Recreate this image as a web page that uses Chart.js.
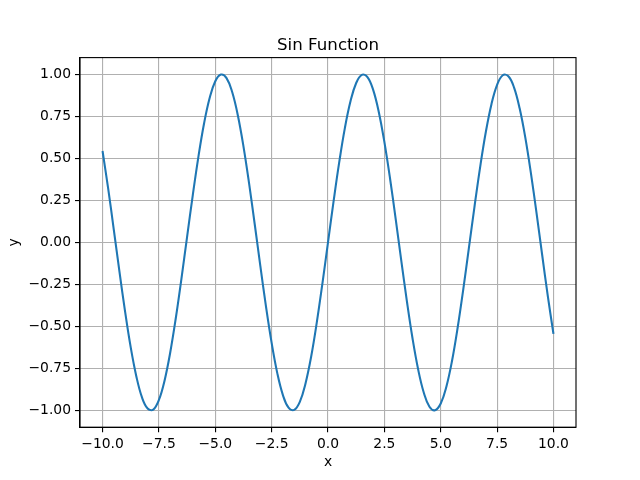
<!DOCTYPE html>
<html><head><meta charset="utf-8">
<script src="https://cdn.jsdelivr.net/npm/chart.js@4/dist/chart.umd.min.js"></script>
<style>html,body{margin:0;padding:0;background:#fff}#wrap{width:640px;height:480px}</style>
</head><body><div id="wrap"><canvas id="c" width="640" height="480"></canvas></div>
<script>
const xValues = [-10,-9.75,-9.5,-9.25,-9,-8.75,-8.5,-8.25,-8,-7.75,-7.5,-7.25,-7,-6.75,-6.5,-6.25,-6,-5.75,-5.5,-5.25,-5,-4.75,-4.5,-4.25,-4,-3.75,-3.5,-3.25,-3,-2.75,-2.5,-2.25,-2,-1.75,-1.5,-1.25,-1,-0.75,-0.5,-0.25,0,0.25,0.5,0.75,1,1.25,1.5,1.75,2,2.25,2.5,2.75,3,3.25,3.5,3.75,4,4.25,4.5,4.75,5,5.25,5.5,5.75,6,6.25,6.5,6.75,7,7.25,7.5,7.75,8,8.25,8.5,8.75,9,9.25,9.5,9.75,10];
const yValues = [0.544,0.320,0.075,-0.174,-0.412,-0.625,-0.798,-0.923,-0.989,-0.995,-0.938,-0.823,-0.657,-0.450,-0.215,0.033,0.279,0.508,0.706,0.859,0.959,0.999,0.978,0.895,0.757,0.572,0.351,0.108,-0.141,-0.382,-0.598,-0.778,-0.909,-0.984,-0.997,-0.949,-0.841,-0.682,-0.479,-0.247,0,0.247,0.479,0.682,0.841,0.949,0.997,0.984,0.909,0.778,0.598,0.382,0.141,-0.108,-0.351,-0.572,-0.757,-0.895,-0.978,-0.999,-0.959,-0.859,-0.706,-0.508,-0.279,-0.033,0.215,0.450,0.657,0.823,0.938,0.995,0.989,0.923,0.798,0.625,0.412,0.174,-0.075,-0.320,-0.544];
const xTicks = [-10,-7.5,-5,-2.5,0,2.5,5,7.5,10];
const yTicks = [-1,-0.75,-0.5,-0.25,0,0.25,0.5,0.75,1];
const titleText = 'Sin Function';
const xLabel = 'x';
const yLabel = 'y';

const FONT = "'DejaVu Sans', sans-serif";
const fmt = (v, d) => v.toFixed(d).replace('-', '\u2212');

const framePlugin = {
  id: 'frame',
  afterDraw(chart) {
    const {ctx, chartArea: a} = chart;
    ctx.save();
    ctx.strokeStyle = '#000';
    ctx.lineWidth = 1.11;
    ctx.strokeRect(a.left, a.top, a.right - a.left, a.bottom - a.top);
    ctx.fillStyle = '#000';
    ctx.font = "16.67px " + FONT;
    ctx.textAlign = 'center';
    ctx.textBaseline = 'alphabetic';
    ctx.fillText(titleText, (a.left + a.right) / 2, a.top - 8);
    ctx.restore();
  }
};

new Chart(document.getElementById('c'), {
  type: 'line',
  data: {
    datasets: [{
      data: xValues.map((x, i) => ({x: x, y: yValues[i]})),
      borderColor: '#1f77b4',
      borderWidth: 2.08,
      pointRadius: 0,
      tension: 0.4,
      fill: false
    }]
  },
  options: {
    responsive: false,
    animation: false,
    devicePixelRatio: 1,
    layout: {padding: {top: 57.6, right: 64, left: 0, bottom: 0}},
    plugins: {legend: {display: false}, tooltip: {enabled: false}, title: {display: false}},
    scales: {
      x: {
        type: 'linear', min: -11, max: 11,
        afterBuildTicks: s => { s.ticks = xTicks.map(v => ({value: v})); },
        afterFit: s => { s.height = 52.8; },
        ticks: {color: '#000', font: {family: FONT, size: 13.89}, padding: 4, maxRotation: 0, autoSkip: false,
          callback: v => fmt(v, 1)},
        grid: {color: '#b0b0b0', lineWidth: 1.11, tickColor: '#000', tickLength: 5, drawTicks: true},
        border: {display: true, color: '#000', width: 1.11},
        title: {display: true, text: xLabel, color: '#000', font: {family: FONT, size: 13.89}, padding: {top: 0, bottom: 9}}
      },
      y: {
        type: 'linear', min: -1.1, max: 1.1,
        afterBuildTicks: s => { s.ticks = yTicks.map(v => ({value: v})); },
        afterFit: s => { s.width = 80; },
        ticks: {color: '#000', font: {family: FONT, size: 13.89}, padding: 4, autoSkip: false,
          callback: v => fmt(v, 2)},
        grid: {color: '#b0b0b0', lineWidth: 1.11, tickColor: '#000', tickLength: 5, drawTicks: true},
        border: {display: true, color: '#000', width: 1.11},
        title: {display: true, text: yLabel, color: '#000', font: {family: FONT, size: 13.89}, padding: {top: 6, bottom: 0}}
      }
    }
  },
  plugins: [framePlugin]
});
</script>
</body></html>
